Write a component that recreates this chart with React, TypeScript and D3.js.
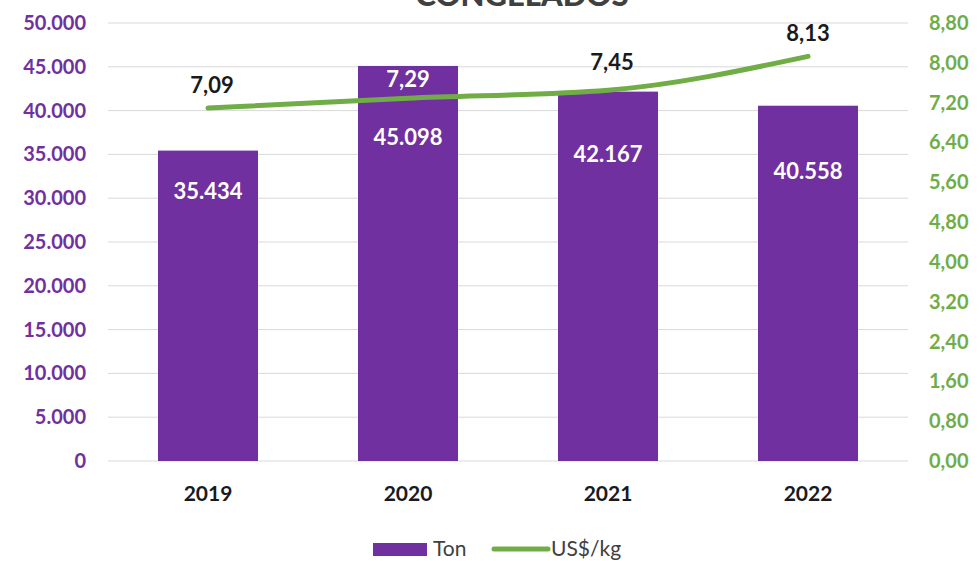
import React, { useEffect, useRef } from 'react';
import * as d3 from 'd3';

const years = ['2019', '2020', '2021', '2022'];
const tons = [35434, 45098, 42167, 40558];
const pricePerKg = [7.09, 7.29, 7.45, 8.13];
const leftTicks = [0, 5000, 10000, 15000, 20000, 25000, 30000, 35000, 40000, 45000, 50000];
const rightTicks = [0, 0.8, 1.6, 2.4, 3.2, 4.0, 4.8, 5.6, 6.4, 7.2, 8.0, 8.8];

// label nudges (excel labels were dragged by hand)
const tonLabelDy = [41, 71, 63, 66];
const priceLabelDy = [-23, -19, -28, -23];

const PURPLE = '#7030A0';
const GREEN = '#70AD47';
const FONT = 'Lato, "Open Sans", sans-serif';

const App: React.FC = () => {
  const svgRef = useRef<SVGSVGElement>(null);

  useEffect(() => {
    if (!svgRef.current) return;
    const svg = d3.select(svgRef.current);
    svg.selectAll('*').remove();

    const plot = { left: 108, right: 908, top: 23, bottom: 461 };

    const x = d3.scaleBand<string>()
      .domain(years)
      .range([plot.left, plot.right])
      .paddingInner(0.5)
      .paddingOuter(0.25);

    const yL = d3.scaleLinear().domain([0, 50000]).range([plot.bottom, plot.top]);
    const yR = d3.scaleLinear().domain([0, 8.8]).range([plot.bottom, plot.top]);

    const fmtTon = (v: number) => d3.format(',')(v).replace(/,/g, '.');
    const fmtPrice = (v: number) => v.toFixed(2).replace('.', ',');

    // title (mostly cut off at the top)
    svg.append('text')
      .attr('x', 522)
      .attr('y', 6)
      .attr('text-anchor', 'middle')
      .attr('font-family', FONT)
      .attr('font-weight', 900)
      .attr('font-size', 31)
      .attr('fill', '#404040')
      .text('CONGELADOS');

    // gridlines
    svg.append('g')
      .selectAll('line')
      .data(leftTicks)
      .enter()
      .append('line')
      .attr('x1', plot.left)
      .attr('x2', plot.right)
      .attr('y1', d => yL(d))
      .attr('y2', d => yL(d))
      .attr('stroke', '#d9d9d9')
      .attr('stroke-width', 1);

    // left axis labels
    svg.append('g')
      .selectAll('text')
      .data(leftTicks)
      .enter()
      .append('text')
      .attr('x', 86)
      .attr('y', d => yL(d))
      .attr('dy', '0.35em')
      .attr('text-anchor', 'end')
      .attr('font-family', FONT)
      .attr('font-weight', 700)
      .attr('font-size', 20)
      .attr('fill', PURPLE)
      .text(d => fmtTon(d));

    // right axis labels
    svg.append('g')
      .selectAll('text')
      .data(rightTicks)
      .enter()
      .append('text')
      .attr('x', 929)
      .attr('y', d => yR(d))
      .attr('dy', '0.35em')
      .attr('text-anchor', 'start')
      .attr('font-family', FONT)
      .attr('font-weight', 700)
      .attr('font-size', 20)
      .attr('fill', GREEN)
      .text(d => fmtPrice(d));

    // bars
    svg.append('g')
      .selectAll('rect')
      .data(tons)
      .enter()
      .append('rect')
      .attr('x', (d, i) => x(years[i])!)
      .attr('y', d => yL(d))
      .attr('width', x.bandwidth())
      .attr('height', d => plot.bottom - yL(d))
      .attr('fill', PURPLE);

    // x labels
    svg.append('g')
      .selectAll('text')
      .data(years)
      .enter()
      .append('text')
      .attr('x', d => x(d)! + x.bandwidth() / 2)
      .attr('y', 494)
      .attr('dy', '0.35em')
      .attr('text-anchor', 'middle')
      .attr('font-family', FONT)
      .attr('font-weight', 700)
      .attr('font-size', 21)
      .attr('fill', '#1a1a1a')
      .text(d => d);

    // bar value labels
    svg.append('g')
      .selectAll('text')
      .data(tons)
      .enter()
      .append('text')
      .attr('x', (d, i) => x(years[i])! + x.bandwidth() / 2)
      .attr('y', (d, i) => yL(d) + tonLabelDy[i])
      .attr('dy', '0.35em')
      .attr('text-anchor', 'middle')
      .attr('font-family', FONT)
      .attr('font-weight', 700)
      .attr('font-size', 22)
      .attr('fill', '#ffffff')
      .text(d => fmtTon(d));

    // price line
    const line = d3.line<number>()
      .x((d, i) => x(years[i])! + x.bandwidth() / 2)
      .y(d => yR(d))
      .curve(d3.curveMonotoneX);

    svg.append('path')
      .datum(pricePerKg)
      .attr('d', line)
      .attr('fill', 'none')
      .attr('stroke', GREEN)
      .attr('stroke-width', 5)
      .attr('stroke-linecap', 'round')
      .attr('stroke-linejoin', 'round');

    // price labels (white where they sit on a bar)
    svg.append('g')
      .selectAll('text')
      .data(pricePerKg)
      .enter()
      .append('text')
      .attr('x', (d, i) => x(years[i])! + x.bandwidth() / 2 + (i === 0 || i === 2 ? 4 : 0))
      .attr('y', (d, i) => yR(d) + priceLabelDy[i])
      .attr('dy', '0.35em')
      .attr('text-anchor', 'middle')
      .attr('font-family', FONT)
      .attr('font-weight', 700)
      .attr('font-size', 22)
      .attr('fill', (d, i) => (yR(d) + priceLabelDy[i] > yL(tons[i]) ? '#ffffff' : '#1a1a1a'))
      .text(d => fmtPrice(d));

    // legend
    const lg = svg.append('g').attr('font-family', FONT).attr('font-size', 21).attr('fill', '#404040');
    lg.append('rect').attr('x', 373).attr('y', 543).attr('width', 54).attr('height', 13).attr('fill', PURPLE);
    lg.append('text').attr('x', 433).attr('y', 549).attr('dy', '0.35em').text('Ton');
    lg.append('line')
      .attr('x1', 494).attr('x2', 548).attr('y1', 549).attr('y2', 549)
      .attr('stroke', GREEN).attr('stroke-width', 5).attr('stroke-linecap', 'round');
    lg.append('text').attr('x', 551).attr('y', 549).attr('dy', '0.35em').text('US$/kg');
  }, []);

  return (
    <svg
      ref={svgRef}
      width={979}
      height={561}
      style={{ position: 'absolute', left: 0, top: 0, background: '#ffffff' }}
    />
  );
};

export default App;
